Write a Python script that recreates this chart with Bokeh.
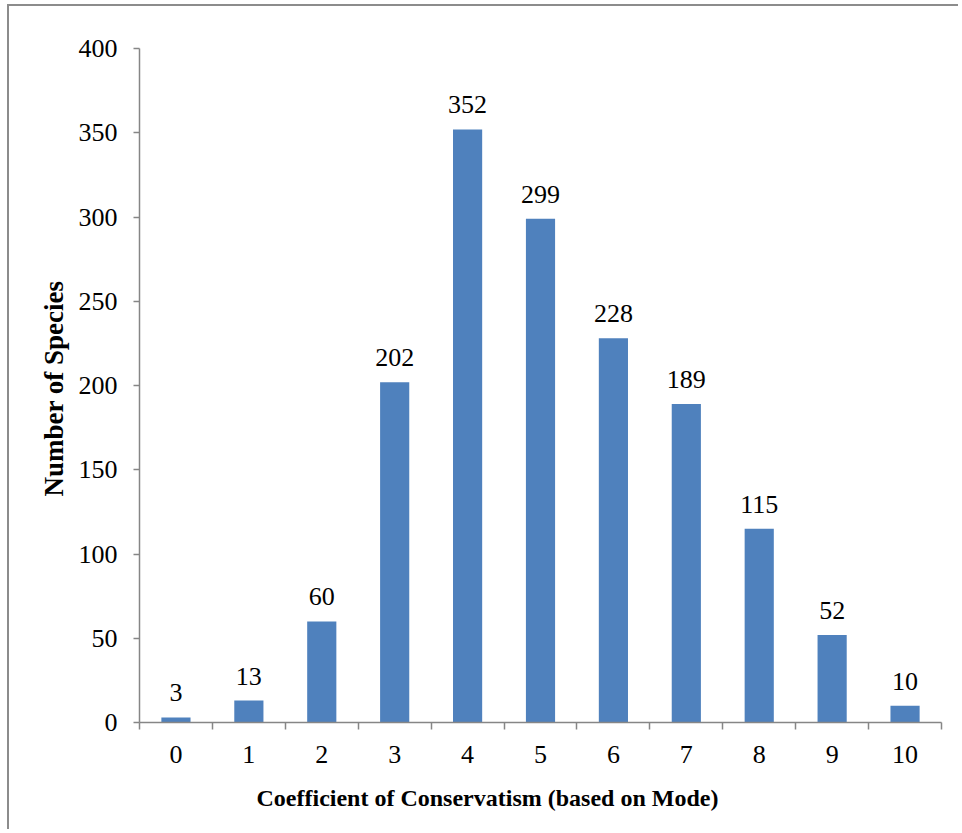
from bokeh.plotting import figure
from bokeh.models import FixedTicker, Range1d, Title, ColumnDataSource
from bokeh.embed import file_html
from bokeh.resources import INLINE

categories = ["0", "1", "2", "3", "4", "5", "6", "7", "8", "9", "10"]
counts = [3, 13, 60, 202, 352, 299, 228, 189, 115, 52, 10]
y_ticks = [0, 50, 100, 150, 200, 250, 300, 350, 400]
x_title = "Coefficient of Conservatism (based on Mode)"
y_title = "Number of Species"

FONT = "Liberation Serif"
AXIS_COLOR = "#868686"
BAR_COLOR = "#4F81BD"

xs = list(range(len(categories)))
src = ColumnDataSource(dict(x=xs, y=counts, label=[str(c) for c in counts]))

p = figure(width=951, height=825, output_backend="svg", toolbar_location=None,
           x_range=Range1d(-0.5, len(categories) - 0.5), y_range=Range1d(0, 400),
           min_border_left=130, min_border_right=19, min_border_top=42, min_border_bottom=109)
p.styles = {"border-left": "2px solid #8c8c8c", "border-top": "2px solid #8c8c8c",
            "margin-left": "7px", "margin-top": "4px"}

p.vbar(x="x", top="y", width=0.4, source=src, fill_color=BAR_COLOR, line_color=None)
p.text(x="x", y="y", text="label", source=src, text_align="center", text_baseline="bottom",
       y_offset=-16, text_font=FONT, text_font_size="26px", text_color="black")

p.xgrid.visible = False
p.ygrid.visible = False
p.outline_line_color = None

xa = p.xaxis[0]
xa.ticker = FixedTicker(ticks=xs, minor_ticks=[i - 0.5 for i in range(len(categories) + 1)])
xa.major_label_overrides = {i: c for i, c in enumerate(categories)}
xa.major_tick_out = 0
xa.major_tick_in = 0
xa.minor_tick_out = 7
xa.minor_tick_in = 0
xa.minor_tick_line_color = AXIS_COLOR
xa.minor_tick_line_width = 1.5
xa.axis_line_color = AXIS_COLOR
xa.axis_line_width = 1.5
xa.major_label_standoff = 16
xa.major_label_text_font = FONT
xa.major_label_text_font_size = "26px"
xa.major_label_text_color = "black"

ya = p.yaxis[0]
ya.ticker = FixedTicker(ticks=y_ticks, minor_ticks=[])
ya.major_tick_out = 6
ya.major_tick_in = 0
ya.major_tick_line_color = AXIS_COLOR
ya.major_tick_line_width = 1.5
ya.minor_tick_line_color = None
ya.axis_line_color = AXIS_COLOR
ya.axis_line_width = 1.5
ya.major_label_standoff = 16
ya.major_label_text_font = FONT
ya.major_label_text_font_size = "26px"
ya.major_label_text_color = "black"

p.add_layout(Title(text=x_title, align="left", offset=117, text_font=FONT, text_color="black",
                   text_font_size="24px", text_font_style="bold", standoff=34), "below")
p.add_layout(Title(text=y_title, align="left", offset=226, text_font=FONT, text_color="black",
                   text_font_size="27px", text_font_style="bold", standoff=14), "left")

open("out.html", "w").write(file_html(p, INLINE))
